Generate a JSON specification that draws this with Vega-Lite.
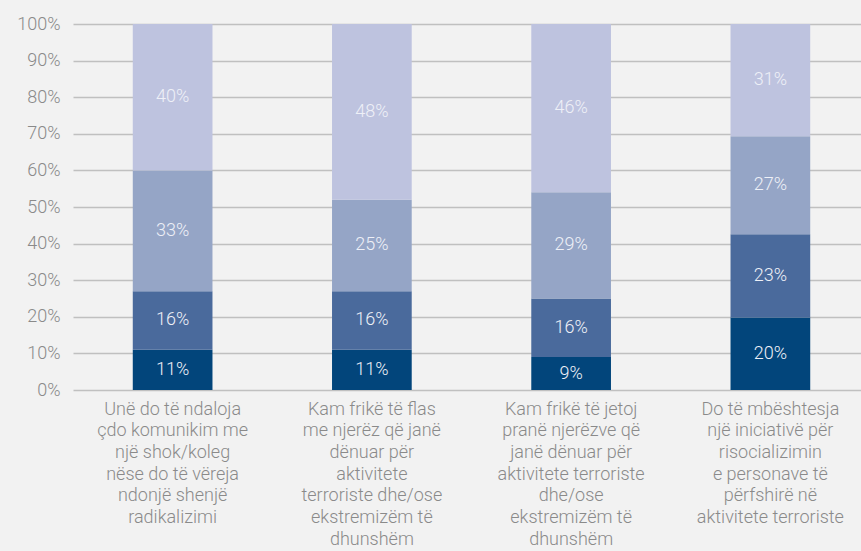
{
  "$schema": "https://vega.github.io/schema/vega-lite/v6.json",
  "width": 788,
  "height": 366,
  "autosize": {"type": "none"},
  "padding": {"left": 73, "top": 24, "right": 0, "bottom": 161},
  "background": "#f2f2f2",
  "config": {
    "view": {"stroke": null},
    "font": "Roboto"
  },
  "data": {
    "values": [
      {"cat": "Unë do të ndaloja|çdo komunikim me|një shok/koleg|nëse do të vëreja|ndonjë shenjë|radikalizimi", "seg": 1, "value": 0.11},
      {"cat": "Unë do të ndaloja|çdo komunikim me|një shok/koleg|nëse do të vëreja|ndonjë shenjë|radikalizimi", "seg": 2, "value": 0.16},
      {"cat": "Unë do të ndaloja|çdo komunikim me|një shok/koleg|nëse do të vëreja|ndonjë shenjë|radikalizimi", "seg": 3, "value": 0.33},
      {"cat": "Unë do të ndaloja|çdo komunikim me|një shok/koleg|nëse do të vëreja|ndonjë shenjë|radikalizimi", "seg": 4, "value": 0.40},
      {"cat": "Kam frikë të flas|me njerëz që janë|dënuar për|aktivitete|terroriste dhe/ose|ekstremizëm të|dhunshëm", "seg": 1, "value": 0.11},
      {"cat": "Kam frikë të flas|me njerëz që janë|dënuar për|aktivitete|terroriste dhe/ose|ekstremizëm të|dhunshëm", "seg": 2, "value": 0.16},
      {"cat": "Kam frikë të flas|me njerëz që janë|dënuar për|aktivitete|terroriste dhe/ose|ekstremizëm të|dhunshëm", "seg": 3, "value": 0.25},
      {"cat": "Kam frikë të flas|me njerëz që janë|dënuar për|aktivitete|terroriste dhe/ose|ekstremizëm të|dhunshëm", "seg": 4, "value": 0.48},
      {"cat": "Kam frikë të jetoj|pranë njerëzve që|janë dënuar për|aktivitete terroriste|dhe/ose|ekstremizëm të|dhunshëm", "seg": 1, "value": 0.09},
      {"cat": "Kam frikë të jetoj|pranë njerëzve që|janë dënuar për|aktivitete terroriste|dhe/ose|ekstremizëm të|dhunshëm", "seg": 2, "value": 0.16},
      {"cat": "Kam frikë të jetoj|pranë njerëzve që|janë dënuar për|aktivitete terroriste|dhe/ose|ekstremizëm të|dhunshëm", "seg": 3, "value": 0.29},
      {"cat": "Kam frikë të jetoj|pranë njerëzve që|janë dënuar për|aktivitete terroriste|dhe/ose|ekstremizëm të|dhunshëm", "seg": 4, "value": 0.46},
      {"cat": "Do të mbështesja|një iniciativë për|risocializimin|e personave të|përfshirë në|aktivitete terroriste", "seg": 1, "value": 0.20},
      {"cat": "Do të mbështesja|një iniciativë për|risocializimin|e personave të|përfshirë në|aktivitete terroriste", "seg": 2, "value": 0.23},
      {"cat": "Do të mbështesja|një iniciativë për|risocializimin|e personave të|përfshirë në|aktivitete terroriste", "seg": 3, "value": 0.27},
      {"cat": "Do të mbështesja|një iniciativë për|risocializimin|e personave të|përfshirë në|aktivitete terroriste", "seg": 4, "value": 0.31}
    ]
  },
  "transform": [
    {"stack": "value", "groupby": ["cat"], "sort": [{"field": "seg", "order": "ascending"}], "offset": "normalize", "as": ["y0", "y1"]},
    {"calculate": "(datum.y0 + datum.y1) / 2", "as": "mid"}
  ],
  "encoding": {
    "x": {
      "field": "cat",
      "type": "nominal",
      "sort": null,
      "scale": {"range": [0, 797], "paddingInner": 0.6, "paddingOuter": 0.3},
      "axis": {
        "title": null,
        "labelAngle": 0,
        "labelExpr": "split(datum.label, '|')",
        "labelFont": "Roboto",
        "labelFontWeight": 300,
        "labelFontSize": 18,
        "labelLineHeight": 21.7,
        "labelColor": "#8a8a8a",
        "labelPadding": 10,
        "labelBaseline": "top",
        "domain": false,
        "ticks": false,
        "labelLimit": 0
      }
    }
  },
  "layer": [
    {
      "mark": {"type": "bar"},
      "encoding": {
        "y": {
          "field": "y0",
          "type": "quantitative",
          "scale": {"domain": [0, 1], "nice": false},
          "axis": {
            "title": null,
            "values": [0, 0.1, 0.2, 0.3, 0.4, 0.5, 0.6, 0.7, 0.8, 0.9, 1],
            "format": ".0%",
            "domain": false,
            "ticks": false,
            "labelOverlap": false,
            "labelFont": "Roboto",
            "labelFontWeight": 300,
            "labelPadding": 13,
            "labelFontSize": 18,
            "labelColor": "#8a8a8a",
            "gridColor": "#c0c0c0",
            "gridWidth": 1.5
          }
        },
        "y2": {"field": "y1"},
        "color": {
          "field": "seg",
          "type": "ordinal",
          "scale": {"domain": [1, 2, 3, 4], "range": ["#02457b", "#4a6a9c", "#95a5c6", "#bec3df"]},
          "legend": null
        }
      }
    },
    {
      "mark": {"type": "text", "font": "Roboto", "fontWeight": 300, "fontSize": 18, "color": "#eef0f7", "baseline": "middle", "align": "center"},
      "encoding": {
        "y": {
          "field": "mid",
          "type": "quantitative",
          "axis": {
            "title": null,
            "values": [0, 0.1, 0.2, 0.3, 0.4, 0.5, 0.6, 0.7, 0.8, 0.9, 1],
            "format": ".0%",
            "domain": false,
            "ticks": false,
            "labelOverlap": false,
            "labelFont": "Roboto",
            "labelFontWeight": 300,
            "labelPadding": 13,
            "labelFontSize": 18,
            "labelColor": "#8a8a8a",
            "gridColor": "#c0c0c0",
            "gridWidth": 1.5
          }
        },
        "text": {"field": "value", "type": "quantitative", "format": ".0%"}
      }
    }
  ]
}
